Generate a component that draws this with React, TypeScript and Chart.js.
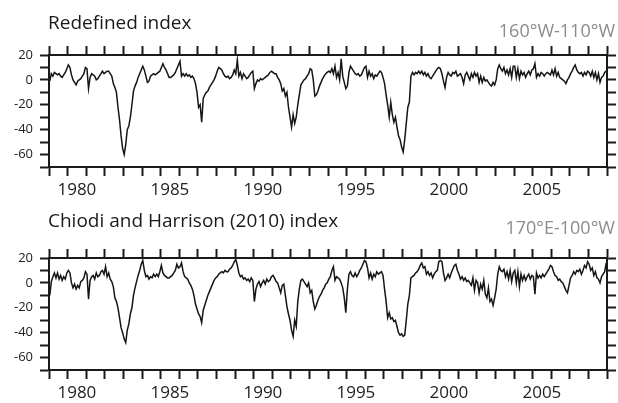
import React, { useEffect, useRef } from 'react';
import { Chart, registerables } from 'chart.js';

Chart.register(...registerables);

// ---- data (monthly values, Jan 1979 – Dec 2008) ----
const START_YEAR = 1979;
const X_MIN = 1979;
const X_MAX = 2009;
const Y_MIN = -70;
const Y_MAX = 20;

const xTickLabels = ['1980', '1985', '1990', '1995', '2000', '2005'];
const yTickLabels = [20, 0, -20, -40, -60];

const redefinedIndex = [
  -1, 5, 3, 6, 5, 4, 5, 3, 2, 4, 6, 9,
  12, 10, 4, 0, -2, -4, -1, 0, 1, 3, 5, 10,
  9, -7, 2, 5, 4, 3, 0, 1, 3, 5, 7, 5,
  6, 7, 7, 5, 3, -3, -6, -10, -22, -32, -45, -55,
  -60, -52, -40, -37, -30, -20, -9, -5, -2, 2, 5, 8,
  11, 8, 3, -2, -1, 3, 4, 5, 4, 5, 6, 7,
  10, 13, 10, 8, 5, 2, 2, 3, 4, 6, 9, 12,
  15, 3, 5, 3, 5, 3, 4, 2, 3, 1, -3, -10,
  -22, -20, -34, -15, -12, -10, -9, -6, -4, -2, 0, 3,
  7, 10, 9, 8, 5, 3, 2, 3, 1, 2, 4, 8,
  5, 16, 3, 6, 1, 5, 3, 1, 2, 4, 6, 7,
  -7, -3, 0, -1, 1, 0, 1, 2, 3, 4, 6, 7,
  6, 5, 5, 2, 0, -3, -9, -7, -13, -10, -22, -30,
  -38, -28, -35, -30, -20, -12, -4, -2, 0, 1, 3, 5,
  9, 8, 0, -13, -12, -9, -5, -2, 1, 3, 5, 6,
  7, 6, 9, 5, 11, 2, 6, 0, 17, 3, -2, -7,
  -5, 6, 11, 9, 7, 5, 4, 5, 3, 4, 7, 10,
  11, 2, 7, 3, 5, 1, 4, 3, 5, 7, 6, 2,
  -3, -12, -20, -30, -18, -28, -34, -30, -38, -45, -48, -54,
  -58, -48, -35, -22, -18, 3, 6, 4, 6, 5, 7, 5,
  7, 4, 6, 3, 5, 2, 1, 3, 5, 7, 9, 10,
  9, 5, -1, -6, 2, 6, 4, 3, 6, 5, 7, 3,
  4, 5, 2, -3, 4, 6, 3, 0, 5, 2, 6, 3,
  5, -2, 3, -2, 2, -1, 0, -2, -4, -5, -2, -4,
  0, 9, 12, 9, 7, 10, 5, 8, 4, 9, 2, 11,
  11, 2, 9, 1, 7, 4, 6, 2, 5, 7, 4, 8,
  9, 13, 2, 5, 3, 6, 5, 3, 5, 6, 5, 4,
  8, 4, 9, 3, 6, 2, 1, 0, -1, -3, 0, 2,
  5, 7, 10, 12, 8, 6, 5, 6, 3, 6, 4, 7,
  6, 3, 7, 2, 6, 0, 5, -2, 2, 3, 6, 7,
];

const chiodiHarrisonIndex = [
  -10, 1, 5, 8, 4, 8, 3, 6, 2, 5, 3, 8,
  10, 8, 0, -4, -1, -5, -2, -4, 1, 2, 4, 9,
  7, -13, 2, 5, 6, 3, 8, 5, 6, 9, 10, 7,
  13, 5, 8, 3, 1, -3, -12, -15, -20, -28, -36, -40,
  -45, -48, -38, -33, -25, -20, -10, -4, 1, 6, 10, 15,
  18, 10, 5, 6, 3, 5, 4, 7, 5, 7, 5, 9,
  14, 8, 6, 5, 4, 4, 5, 6, 8, 10, 15, 12,
  13, 16, 9, 5, 4, 3, 0, -2, -5, -10, -17, -21,
  -25, -27, -32, -22, -18, -14, -10, -7, -4, -1, 2, 4,
  5, 7, 8, 9, 8, 10, 9, 9, 11, 12, 14, 17,
  19, 14, 8, 5, 6, 3, 4, 2, 3, 1, 4, 2,
  -15, -5, -1, 1, -3, 0, 2, -1, 3, 1, 2, 5,
  6, 4, 1, 0, -4, -8, -2, -1, -10, -19, -25, -30,
  -38, -43, -30, -35, -15, -5, 2, 3, 1, -1, -3, 0,
  -8, -6, -15, -21, -18, -14, -11, -9, -6, -4, -1, 0,
  3, 5, 10, 13, 2, 5, 4, 3, 0, -4, -12, -24,
  -5, 7, 9, 6, 5, 8, 5, 7, 10, 12, 15, 18,
  17, 12, 4, 8, 3, 7, 5, 9, 7, 8, 9, 6,
  -5, -15, -28, -24, -29, -28, -31, -30, -35, -40, -42, -41,
  -43, -42, -30, -17, -10, 4, 5, 6, 8, 9, 11, 14,
  16, 12, 13, 7, 9, 6, 8, 4, 7, 9, 10, 17,
  18, 17, 8, 2, 4, 7, 4, 8, 11, 14, 15, 10,
  7, 3, 5, 2, 4, 1, 2, 0, -2, 4, -6, 2,
  0, -8, -1, -5, 2, -9, -12, -4, -15, -13, -18, -12,
  -5, 7, 13, 10, 9, 11, 5, 9, 3, 10, 1, 8,
  10, 0, 9, -3, 7, 2, 6, 2, 5, 7, 3, 6,
  5, -9, 8, 4, 6, 4, 7, 5, 7, 9, 11, 14,
  13, 9, 6, 5, 2, 3, 1, 0, -3, -6, -8, -2,
  4, 6, 9, 7, 10, 9, 11, 7, 10, 14, 12, 17,
  15, 10, 12, 6, 9, 4, 3, 0, 5, 7, 9, 16,
];

// ---- styling ----
const AXIS = '#1a1a1a';
const FONT = "'Open Sans', 'DejaVu Sans', sans-serif";
const CANVAS_W = 618;
const CANVAS_H = 201;

function range(a: number, b: number, step: number) {
  const out: number[] = [];
  for (let v = a; v <= b + 1e-9; v += step) out.push(Math.round(v * 10) / 10);
  return out;
}

function buildConfig(values: number[]): any {
  const points = values.map((v, i) => ({ x: START_YEAR + (i + 0.5) / 12, y: v }));
  const halfYears = range(X_MIN, X_MAX, 0.5);
  const years = range(X_MIN, X_MAX, 1);
  const tens = range(Y_MIN, Y_MAX, 10);
  const tickGrid = (colorFn?: any) => ({
    display: true,
    drawOnChartArea: false,
    drawTicks: true,
    tickLength: 9,
    tickWidth: 2,
    tickColor: colorFn || AXIS,
  });
  const border = { display: true, color: AXIS, width: 2 };
  return {
    type: 'line',
    data: {
      datasets: [
        {
          data: points,
          borderColor: '#151515',
          borderWidth: 1.5,
          pointRadius: 0,
          tension: 0,
          fill: false,
          xAxisID: 'x',
          yAxisID: 'y',
        },
      ],
    },
    options: {
      responsive: false,
      animation: false,
      devicePixelRatio: 1,
      layout: { padding: { top: 46, left: 0, right: 0, bottom: 0 } },
      plugins: { legend: { display: false }, tooltip: { enabled: false }, title: { display: false } },
      scales: {
        x: {
          type: 'linear',
          position: 'bottom',
          min: X_MIN,
          max: X_MAX,
          afterBuildTicks: (s: any) => {
            s.ticks = halfYears.map((v) => ({ value: v }));
          },
          grid: tickGrid((ctx: any) =>
            ctx.tick && Number.isInteger(ctx.tick.value) ? AXIS : 'rgba(0,0,0,0)'
          ),
          border,
          ticks: {
            autoSkip: false,
            maxRotation: 0,
            minRotation: 0,
            padding: 4,
            color: '#222',
            font: { family: FONT, size: 17 },
            callback: (v: any) => {
              const n = Number(v);
              const yr = Math.floor(n);
              return Math.abs(n - yr - 0.5) < 1e-6 && xTickLabels.includes(String(yr)) ? String(yr) : '';
            },
          },
          afterFit: (s: any) => {
            s.height = 34;
          },
        },
        x2: {
          type: 'linear',
          position: 'top',
          min: X_MIN,
          max: X_MAX,
          afterBuildTicks: (s: any) => {
            s.ticks = years.map((v) => ({ value: v }));
          },
          grid: tickGrid(),
          border,
          ticks: { display: false, autoSkip: false },
          afterFit: (s: any) => {
            s.height = 9;
          },
        },
        y: {
          type: 'linear',
          position: 'left',
          min: Y_MIN,
          max: Y_MAX,
          afterBuildTicks: (s: any) => {
            s.ticks = tens.map((v) => ({ value: v }));
          },
          grid: tickGrid(),
          border,
          ticks: {
            autoSkip: false,
            padding: 7,
            color: '#222',
            font: { family: FONT, size: 13 },
            callback: (v: any) => (yTickLabels.includes(Number(v)) ? String(v) : ''),
          },
          afterFit: (s: any) => {
            s.width = 49;
          },
        },
        y2: {
          type: 'linear',
          position: 'right',
          min: Y_MIN,
          max: Y_MAX,
          afterBuildTicks: (s: any) => {
            s.ticks = tens.map((v) => ({ value: v }));
          },
          grid: tickGrid(),
          border,
          ticks: { display: false, autoSkip: false },
          afterFit: (s: any) => {
            s.width = 11;
          },
        },
      },
    },
  };
}

function Panel({ values, top }: { values: number[]; top: number }) {
  const ref = useRef<HTMLCanvasElement | null>(null);
  useEffect(() => {
    if (!ref.current) return;
    const chart = new Chart(ref.current, buildConfig(values));
    return () => chart.destroy();
  }, [values]);
  return (
    <canvas
      ref={ref}
      width={CANVAS_W}
      height={CANVAS_H}
      style={{ position: 'absolute', left: 0, top, width: CANVAS_W, height: CANVAS_H }}
    />
  );
}

const titleStyle: React.CSSProperties = {
  position: 'absolute',
  left: 48,
  fontFamily: FONT,
  fontSize: 19,
  lineHeight: '19px',
  color: '#1a1a1a',
  whiteSpace: 'nowrap',
};
const regionStyle: React.CSSProperties = {
  position: 'absolute',
  right: 3,
  fontFamily: FONT,
  fontSize: 18,
  lineHeight: '18px',
  color: '#8c8c8c',
  whiteSpace: 'nowrap',
};

export default function App() {
  useEffect(() => {
    document.body.style.margin = '0';
  }, []);
  return (
    <div style={{ position: 'relative', width: 618, height: 403, overflow: 'hidden', background: '#fff' }}>
      <Panel values={redefinedIndex} top={0} />
      <Panel values={chiodiHarrisonIndex} top={203} />
      <div style={{ ...titleStyle, top: 13 }}>Redefined index</div>
      <div style={{ ...regionStyle, top: 21 }}>160°W-110°W</div>
      <div style={{ ...titleStyle, top: 211 }}>Chiodi and Harrison (2010) index</div>
      <div style={{ ...regionStyle, top: 218 }}>170°E-100°W</div>
    </div>
  );
}
